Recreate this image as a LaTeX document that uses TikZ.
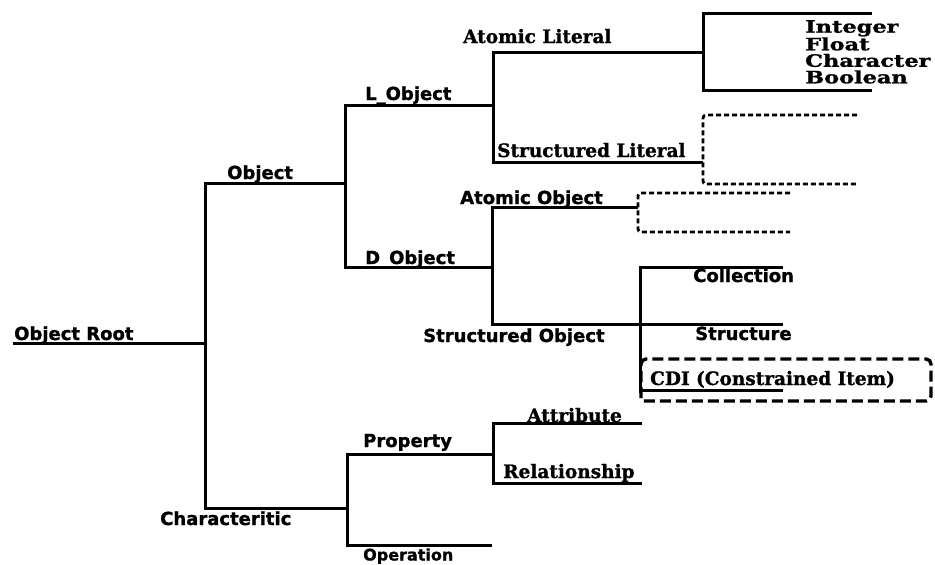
\documentclass[tikz,border=0pt]{standalone}
\usepackage{fontspec}
\newfontfamily\sanslab{DejaVu Sans}[BoldFeatures={FakeBold=1.2}]
\newfontfamily\seriflab{DejaVu Serif}[BoldFeatures={FakeBold=1.2}]
\tikzset{
  tree/.style={line width=3pt, line join=miter},
  openbr/.style={line width=2.8pt, dash pattern=on 5pt off 3pt, rounded corners=3pt},
  cdibox/.style={line width=3.4pt, dash pattern=on 11pt off 5pt, rounded corners=5pt},
  lab/.style={anchor=base west, inner sep=0pt, font=\sanslab\bfseries\fontsize{18}{20}\selectfont},
  slab/.style={anchor=base west, inner sep=0pt, font=\seriflab\bfseries\fontsize{18.5}{20}\selectfont},
  wide/.style={anchor=north west, inner sep=0pt, align=left,
    font=\seriflab\bfseries\fontsize{17}{16.5}\selectfont},
}
\newcommand\widetext[1]{\scalebox{1.32}[1]{#1}}
\begin{document}
\begin{tikzpicture}[x=1pt,y=-1pt]
\useasboundingbox (0,0) rectangle (935,565);

% ---- labels ----
\node[lab] (root)   at (14,340)  {Object Root};
\node[lab] (obj)    at (227,179) {Object};
\node[lab] (lobj)   at (365,100) {L\_Object};
\node[lab] (dobj)   at (365,264) {D\_Object};
\node[slab] (alit)  at (463,43)  {Atomic Literal};
\node[slab] (slit)  at (497,157) {Structured Literal};
\node[lab] (aobj)   at (460,204) {Atomic Object};
\node[lab] (sobj)   at (423,342) {Structured Object};
\node[lab] (coll)   at (693,282) {Collection};
\node[lab] (struc)  at (695,340) {Structure};
\node[slab] (cdi)   at (650,385) {CDI (Constrained Item)};
\node[lab] (chr)    at (160,525) {Characteritic};
\node[lab] (prop)   at (363,447) {Property};
\node[lab, font=\sanslab\bfseries\fontsize{16}{18}\selectfont] (oper) at (363,560.5) {Operation};
\node[slab] (attr)  at (527,422) {Attribute};
\node[slab] (rel)   at (503,478) {Relationship};
\node[wide] (prim) at (805,20)
  {\widetext{Integer}\\\widetext{Float}\\\widetext{Character}\\\widetext{Boolean}};

% ---- junction points ----
\coordinate (rootL) at (13,343);
\coordinate (rootJ) at (205,343);
\coordinate (objS)  at (205,183);
\coordinate (objJ)  at (345,183);
\coordinate (chrS)  at (205,508);
\coordinate (chrJ)  at (347,508);
\coordinate (lobjS) at (345,105);
\coordinate (lobjJ) at (493,105);
\coordinate (dobjS) at (345,267);
\coordinate (dobjJ) at (492,267);
\coordinate (alitS) at (493,52);
\coordinate (alitJ) at (703,52);
\coordinate (slitS) at (493,162);
\coordinate (slitJ) at (703,162);
\coordinate (aobjS) at (492,207);
\coordinate (aobjJ) at (638,207);
\coordinate (sobjS) at (492,324);
\coordinate (sobjJ) at (640,324);
\coordinate (strucE) at (783,324);
\coordinate (collS) at (640,267);
\coordinate (collE) at (783,267);
\coordinate (cdiS)  at (640,390);
\coordinate (cdiE)  at (783,390);
\coordinate (propS) at (347,454);
\coordinate (propJ) at (492,454);
\coordinate (operS) at (347,545);
\coordinate (operE) at (492,545);
\coordinate (attrS) at (493,423);
\coordinate (attrE) at (642,423);
\coordinate (relS)  at (493,483);
\coordinate (relE)  at (642,483);

% ---- tree connectors ----
\draw[tree] (rootL) -- (rootJ);
\draw[tree] (objJ) -- (objS) -- (chrS) -- (chrJ);
\draw[tree] (lobjJ) -- (lobjS) -- (dobjS) -- (dobjJ);
\draw[tree] (alitJ) -- (alitS) -- (slitS) -- (slitJ);
\draw[tree] (aobjJ) -- (aobjS) -- (sobjS) -- (sobjJ) -- (strucE);
\draw[tree] (collE) -- (collS) -- (cdiS |- 0,393);
\draw[tree] (cdiS) -- (cdiE);
\draw[tree] (propJ) -- (propS) -- (operS) -- (operE);
\draw[tree] (attrE) -- (attrS) -- (relS) -- (relE);

% primitive literal bracket
\draw[tree] (872,13) -- (703,13) -- (703,90) -- (872,90);

% open (dashed) brackets
\draw[openbr] (857,115) -- (slitJ |- 0,115) -- (slitJ |- 0,184) -- (857,184);
\draw[openbr] (790,193) -- (aobjJ |- 0,193) -- (aobjJ |- 0,232) -- (790,232);

% constrained item frame
\draw[cdibox] (641,398) -- (641,359) -- (931,359) -- (931,401) -- (643,401);
\end{tikzpicture}
\end{document}
